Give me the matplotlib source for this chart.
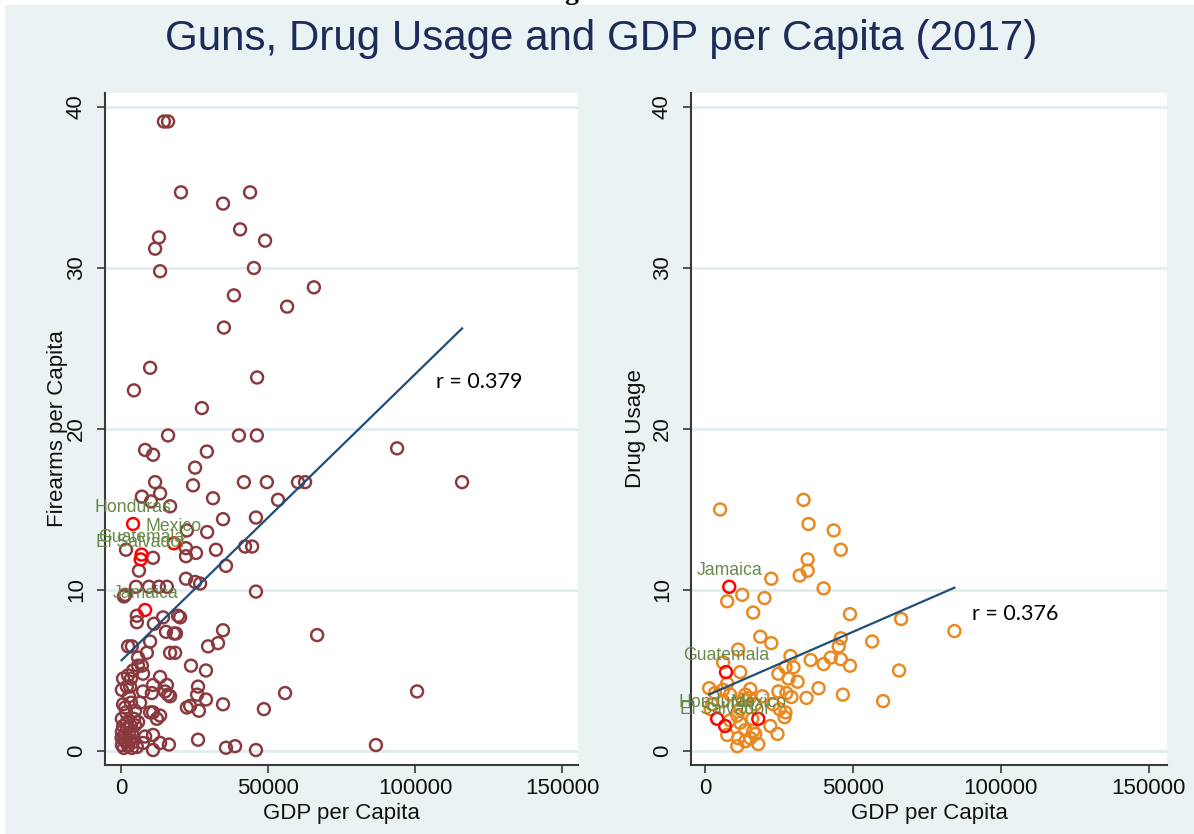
import matplotlib
matplotlib.use("Agg")
import matplotlib.pyplot as plt
import numpy as np
from matplotlib.patches import Rectangle

plt.rcParams['font.family'] = ['Liberation Sans', 'DejaVu Sans']

# ---------------- data ----------------
# Firearms per capita vs GDP per capita (all countries)
gun_gdp = [14600, 16000, 20400, 43900, 34700, 40500, 12900, 11600, 49000, 13300, 45200, 65600,
           38400, 56500, 35000, 4400, 9900, 46300, 27500, 93900, 116000,
           16000, 40100, 46200, 8200, 10900, 29200, 25200, 11600, 24500, 41800, 49600, 60200,
           62600, 7100, 10200, 13300, 16700, 31300, 53400, 34700, 45900, 22400, 29300,
           35700, 42200, 44600, 32300, 22100, 22100, 25500, 10900, 1700, 6100, 22100, 25200,
           26900, 45900, 5100, 9500, 12900, 15600, 1400, 1000,
           5400, 5400, 11200, 14300, 19400, 20100, 15300, 18700, 18000, 34700, 66700, 9900,
           2400, 3700, 29600, 33000, 16700, 18400, 8800, 5800, 5800, 7100, 23800, 28900, 4100,
           7500, 700, 2400, 3400, 13300, 3100, 10900, 15600, 26200, 7500, 10500, 15000, 16000,
           16700, 25900, 55800, 3400, 6500, 28900, 22400, 23500, 26500, 34700, 48600, 1400,
           4800, 9900, 10900, 13300, 12200, 300, 2000, 5800, 4800, 300, 3700, 8200, 10900,
           26200, 13300, 16300, 10900, 35700, 38800, 45900, 5400, 7500, 86700, 100700,
           300, 1000, 1700, 2400, 3100, 3700, 200, 1400, 2000, 2700, 700, 3400, 4100, 1000,
           700, 1700, 2700, 4400, 300, 2000]
gun_rate = [39.1, 39.1, 34.7, 34.7, 34.0, 32.4, 31.9, 31.2, 31.7, 29.8, 30.0, 28.8,
            28.3, 27.6, 26.3, 22.4, 23.8, 23.2, 21.3, 18.8, 16.7,
            19.6, 19.6, 19.6, 18.7, 18.4, 18.6, 17.6, 16.7, 16.5, 16.7, 16.7, 16.7,
            16.7, 15.8, 15.5, 16.0, 15.2, 15.7, 15.6, 14.4, 14.5, 13.7, 13.6,
            11.5, 12.7, 12.7, 12.5, 12.6, 12.1, 12.3, 12.0, 12.5, 11.2, 10.7, 10.5,
            10.4, 9.9, 10.2, 10.2, 10.2, 10.2, 9.7, 9.6,
            8.4, 8.0, 7.9, 8.3, 8.4, 8.3, 7.4, 7.3, 7.3, 7.5, 7.2, 6.8,
            6.5, 6.5, 6.5, 6.7, 6.1, 6.1, 6.1, 5.8, 5.3, 5.3, 5.3, 5.0, 5.0,
            4.8, 4.5, 4.7, 4.5, 4.6, 4.0, 4.1, 4.1, 4.0, 3.7, 3.6, 3.7, 3.5,
            3.4, 3.5, 3.6, 3.0, 3.0, 3.2, 2.7, 2.8, 2.5, 2.9, 2.6, 2.7,
            2.5, 2.4, 2.4, 2.2, 2.0, 2.0, 1.8, 1.8, 1.6, 1.2, 1.1, 0.9, 1.0,
            0.7, 0.5, 0.4, 0.06, 0.2, 0.3, 0.06, 0.25, 0.5, 0.37, 3.7,
            0.37, 0.19, 0.56, 0.31, 0.68, 0.19, 0.81, 1.0, 1.43, 1.12, 1.55, 1.55, 0.56, 0.68,
            2.9, 2.4, 3.4, 2.0, 3.8, 4.0]

# Drug usage vs GDP per capita (all countries)
drug_gdp = [5100, 33300, 35000, 43500, 45900, 34700, 34700, 32000, 22400, 40100, 12600, 20100,
            7500, 16300, 49000, 66300, 18700, 22400, 45900, 45200, 56500, 11200, 28900, 84300,
            35700, 40100, 42500, 45900, 49000, 65600, 11900, 24800, 27200, 29900, 28200, 31300,
            7500, 38400, 46600, 60200, 34300, 24800, 27500, 29200, 1400, 3400, 6100, 8500,
            13600, 15300, 19400, 12900, 15000, 17000, 23100, 25200, 27200, 26900, 1900, 2400,
            6100, 11900, 10900, 11900, 8500, 16000, 22100, 24500, 7500, 11200, 10900, 13600,
            15300, 16300, 17000, 18000, 13600, 6100]
drug_rate = [15.0, 15.6, 14.1, 13.7, 12.5, 11.9, 11.2, 10.9, 10.7, 10.1, 9.7, 9.5,
             9.3, 8.6, 8.5, 8.2, 7.1, 6.7, 7.0, 6.5, 6.8, 6.3, 5.9, 7.45,
             5.65, 5.4, 5.8, 5.7, 5.3, 5.0, 4.9, 4.8, 5.2, 5.2, 4.5, 4.3,
             4.2, 3.9, 3.5, 3.1, 3.3, 3.7, 3.6, 3.35, 3.9, 3.6, 3.8, 3.5,
             3.5, 3.85, 3.4, 3.2, 3.3, 2.9, 2.9, 2.6, 2.4, 2.1, 2.6, 2.9,
             3.1, 2.6, 2.2, 1.75, 1.9, 2.0, 1.55, 1.06, 1.0, 0.8, 0.3, 0.6,
             0.8, 1.24, 1.06, 0.43, 1.3, 5.5]

# Highlighted countries
gun_names = ['Honduras', 'Mexico', 'Guatemala', 'El Salvador', 'Jamaica']
gun_hl_gdp = [4100, 18000, 7000, 6700, 8200]
gun_hl_rate = [14.1, 12.9, 12.2, 11.9, 8.76]

drug_names = ['Jamaica', 'Guatemala', 'Honduras', 'El Salvador', 'Mexico']
drug_hl_gdp = [8200, 7100, 4100, 6800, 18000]
drug_hl_rate = [10.2, 4.9, 2.0, 1.55, 2.0]

# Linear fits (intercept, slope per dollar) and correlations
gun_fit = (5.6, 0.178e-3)
drug_fit = (3.4, 0.080e-3)
gun_r = 0.379
drug_r = 0.376

x_ticks = [0, 50000, 100000, 150000]
y_ticks = [0, 10, 20, 30, 40]

# ---------------- style ----------------
BG = '#eaf2f3'
MAROON = '#8a3a3f'
ORANGE = '#e8881e'
RED = '#ff0000'
NAVY = '#1f4e79'
LABEL_GREEN = '#67894a'
TITLE_COLOR = '#1c2b58'
AXIS_COLOR = '#3a3a3a'

W, H = 1194, 834
fig = plt.figure(figsize=(W / 100, H / 100), dpi=100, facecolor='white')
fig.patches.append(Rectangle((5 / W, 0), 1, (H - 5) / H, transform=fig.transFigure,
                             facecolor=BG, edgecolor='none', zorder=-10))

# partial heading glyph above the graph
fig.text(571 / W, 1 + 1 / H, 'g', ha='center', va='baseline', fontsize=20,
         fontweight='bold', family=['Liberation Serif'], color='black')

fig.text(601 / W, 1 - 50 / H, 'Guns, Drug Usage and GDP per Capita (2017)',
         ha='center', va='baseline', fontsize=30.3, color=TITLE_COLOR)


def make_axes(rect, ylab):
    ax = fig.add_axes(rect)
    ax.set_facecolor('white')
    for s in ('top', 'right'):
        ax.spines[s].set_visible(False)
    for s in ('left', 'bottom'):
        ax.spines[s].set_color(AXIS_COLOR)
        ax.spines[s].set_linewidth(1.5)
    ax.set_xticks(x_ticks)
    ax.set_yticks(y_ticks)
    ax.set_xticklabels([str(t) for t in x_ticks])
    ax.set_yticklabels([str(t) for t in y_ticks])
    ax.tick_params(axis='both', direction='out', length=6, width=1.2, color=AXIS_COLOR,
                   labelsize=16, labelcolor='#111111')
    ax.tick_params(axis='x', pad=3)
    ax.tick_params(axis='y', pad=7, labelrotation=90)
    for lab in ax.get_yticklabels():
        lab.set_verticalalignment('center')
    ax.grid(axis='y', color='#e1ecef', linewidth=2)
    ax.set_axisbelow(True)
    ax.set_ylabel(ylab, fontsize=16, color='#111111', va='center')
    ax.set_xlabel('GDP per Capita', fontsize=16, color='#111111', va='center')
    return ax


# left panel
axL = make_axes([105 / W, (H - 765) / H, (578 - 105) / W, (765 - 93) / H], 'Firearms per Capita')
axL.set_xlim((105 - 121) * 340.1, (578 - 121) * 340.1)
axL.set_ylim((751 - 765) / 16.1, (751 - 93) / 16.1)
axL.yaxis.set_label_coords((57 - 105) / 473, 0.5)
axL.xaxis.set_label_coords(0.5, (765 - 813) / 672)

# right panel
axR = make_axes([691 / W, (H - 765) / H, (1167 - 691) / W, (765 - 93) / H], 'Drug Usage')
axR.set_xlim((691 - 705) * 338, (1167 - 705) * 338)
axR.set_ylim((751 - 765) / 16.1, (751 - 93) / 16.1)
axR.yaxis.set_label_coords((636 - 691) / 476, 0.5)
axR.xaxis.set_label_coords(0.5, (765 - 813) / 672)

MS = 74
LW = 1.75


def draw_panel(ax, gx, gy, color, hx, hy, names, fit, r, r_pos):
    ax.scatter(gx, gy, s=MS, facecolors='none', edgecolors=color, linewidths=LW, zorder=3)
    ax.scatter(hx, hy, s=MS, facecolors='none', edgecolors=RED, linewidths=LW, zorder=4)
    for name, x, y in zip(names, hx, hy):
        ax.annotate(name, (x, y), xytext=(0, 12), textcoords='offset points',
                    ha='center', va='center', fontsize=12.7, color=LABEL_GREEN,
                    annotation_clip=False, zorder=5)
    xs = np.array([min(gx), max(gx)])
    ax.plot(xs, fit[0] + fit[1] * xs, color=NAVY, linewidth=1.6, zorder=6)
    ax.text(r_pos[0], r_pos[1], f'r = {r:.3f}', ha='left', va='center', fontsize=15.5,
            family=['Lato', 'DejaVu Sans'], color='black', zorder=7)


draw_panel(axL, gun_gdp, gun_rate, MAROON, gun_hl_gdp, gun_hl_rate, gun_names,
           gun_fit, gun_r, (107000, 22.9))
draw_panel(axR, drug_gdp, drug_rate, ORANGE, drug_hl_gdp, drug_hl_rate, drug_names,
           drug_fit, drug_r, (90200, 8.5))

fig.savefig('out.png', dpi=100, facecolor=fig.get_facecolor())
